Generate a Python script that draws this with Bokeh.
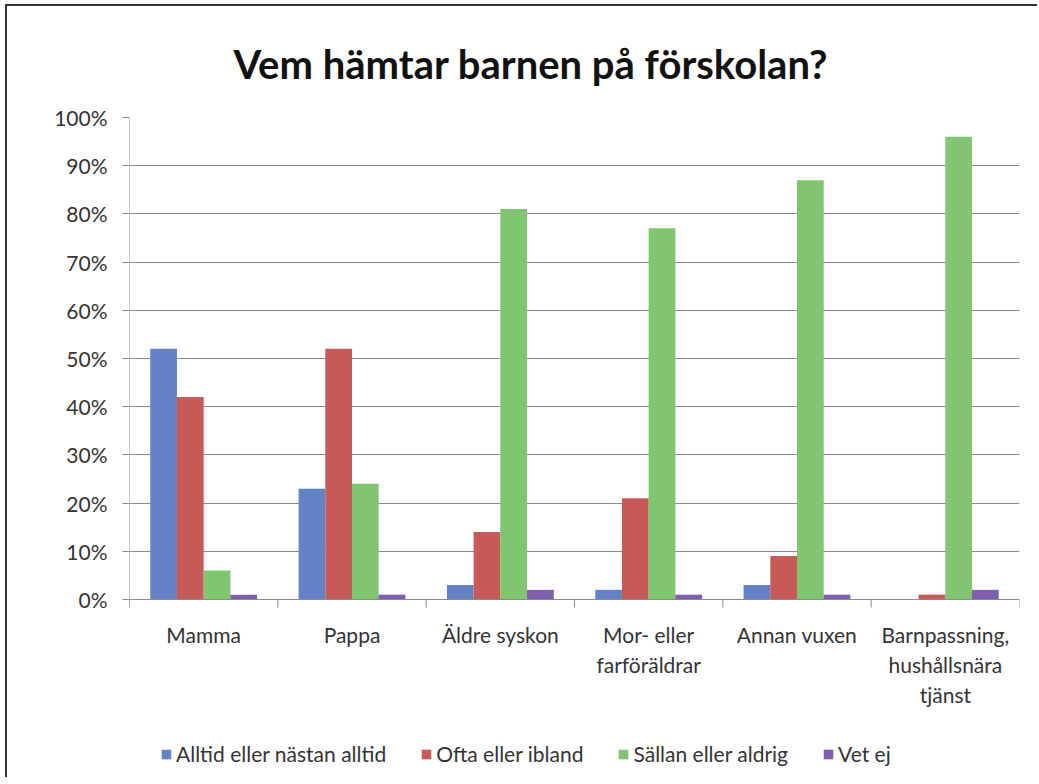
from bokeh.plotting import figure
from bokeh.models import (Range1d, FixedTicker, LinearAxis, Legend, LegendItem,
                          NumeralTickFormatter, ColumnDataSource, Span)
from bokeh.core.properties import value
from bokeh.embed import file_html
from bokeh.resources import INLINE

title_text = "Vem hämtar barnen på förskolan?"
categories = ["Mamma", "Pappa", "Äldre syskon", "Mor- eller\nfarföräldrar",
              "Annan vuxen", "Barnpassning,\nhushållsnära\ntjänst"]
series_names = ["Alltid eller nästan alltid", "Ofta eller ibland",
                "Sällan eller aldrig", "Vet ej"]
alltid = [52, 23, 3, 2, 3, 0]
ofta = [42, 52, 14, 21, 9, 1]
sallan = [6, 24, 81, 77, 87, 96]
vet_ej = [1, 1, 2, 1, 1, 2]
y_ticks = [0, 10, 20, 30, 40, 50, 60, 70, 80, 90, 100]

colors = ["#6483C7", "#C55A57", "#80C56F", "#7F5DAF"]
FONT = "Lato"
TEXT = "#333333"
GRID = "#8a8a8a"

n = len(categories)
FRAME_W, FRAME_H = 890, 660
PX_PER_UNIT = 482          # pixels from 0% to 100%
TICK_PX = 8                # category tick length below the axis
LABEL_GAP_PX = 22          # gap from axis to top of category labels
y_low = 1 - FRAME_H / PX_PER_UNIT
tick_low = -TICK_PX / PX_PER_UNIT
label_y = -LABEL_GAP_PX / PX_PER_UNIT

p = figure(frame_width=FRAME_W, frame_height=FRAME_H, output_backend="svg",
           toolbar_location=None,
           x_range=Range1d(0, n), y_range=Range1d(y_low, 1),
           x_axis_location=None, y_axis_location=None,
           min_border_left=122, min_border_right=18, min_border_top=111,
           min_border_bottom=0)
p.styles = {"border-left": "2px solid #333", "border-top": "2px solid #333",
            "margin-left": "5px", "margin-top": "4px"}
p.outline_line_color = None
p.background_fill_color = "white"
p.border_fill_color = "white"

p.title.text = title_text
p.title.align = "left"
p.title.offset = 104
p.title.text_font = FONT
p.title.text_font_size = "40px"
p.title.text_font_style = "bold"
p.title.text_color = "#111111"
p.title.standoff = 59

# y axis (ticks and labels); axis line drawn as a segment so it stops below 0
yaxis = LinearAxis(ticker=FixedTicker(ticks=[t / 100 for t in y_ticks]),
                   formatter=NumeralTickFormatter(format="0%"),
                   axis_line_color=None, major_tick_line_color=GRID,
                   major_tick_out=7, major_tick_in=0, minor_tick_line_color=None,
                   major_label_text_font=FONT, major_label_text_font_size="21px",
                   major_label_text_color=TEXT, major_label_standoff=15)
p.add_layout(yaxis, "left")

p.xgrid.visible = False
p.ygrid.ticker = FixedTicker(ticks=[t / 100 for t in y_ticks])
p.ygrid.grid_line_color = GRID
p.ygrid.grid_line_width = 1

# x axis line at 0, vertical axis line and category boundary ticks
p.add_layout(Span(location=0, dimension="width", line_color=GRID, line_width=1))
p.segment(x0=[0], y0=[tick_low], x1=[0], y1=[1], line_color=GRID, line_width=1)
bounds = list(range(n + 1))
p.segment(x0=bounds, y0=[tick_low] * len(bounds), x1=bounds, y1=[0] * len(bounds),
          line_color=GRID, line_width=1)

# category labels
centers = [i + 0.5 for i in range(n)]
p.text(x=centers, y=[label_y] * n, text=categories, text_align="center",
       text_baseline="top", text_font=value(FONT), text_font_size="21px",
       text_color=TEXT, text_line_height=1.2)

bar_w = 0.18
renderers = []
for k, (name, vals) in enumerate(zip(series_names, [alltid, ofta, sallan, vet_ej])):
    src = ColumnDataSource(dict(x=[i + 0.5 + (k - 1.5) * bar_w for i in range(n)],
                                top=[v / 100 for v in vals]))
    r = p.vbar(x="x", top="top", bottom=0, width=bar_w, source=src,
               fill_color=colors[k], line_color=None)
    renderers.append(r)

legend = Legend(items=[LegendItem(label=nm, renderers=[r]) for nm, r in zip(series_names, renderers)],
                orientation="horizontal", location=(31, 11),
                label_text_font=FONT, label_text_font_size="21px",
                label_text_color=TEXT, glyph_width=12, glyph_height=12,
                label_standoff=4, spacing=34, border_line_color=None,
                background_fill_alpha=0, margin=0, padding=4)
p.add_layout(legend, "center")

open("out.html", "w").write(file_html(p, INLINE))
